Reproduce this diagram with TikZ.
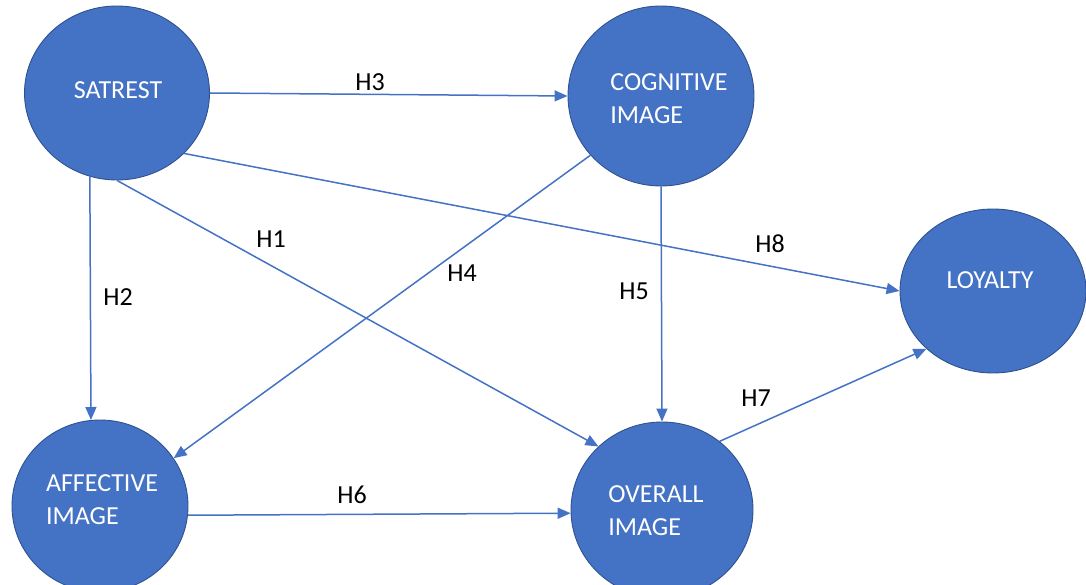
\documentclass[tikz,border=0pt]{standalone}
\usepackage{fontspec}
\setmainfont{Carlito}
\usetikzlibrary{shapes.geometric,arrows.meta}
\definecolor{accent}{HTML}{4472C4}
\definecolor{rim}{HTML}{2F528F}
\tikzset{
  bubble/.style={ellipse,draw=rim,line width=0.9pt,fill=accent,inner sep=0pt},
  btext/.style={text=white,font=\fontsize{26}{33}\selectfont,align=left,inner sep=0pt},
  conn/.style={draw=accent,line width=1.5pt,-{Triangle[length=13pt,width=11pt]}},
  hlab/.style={text=black,font=\fontsize{26}{33}\selectfont,inner sep=0pt}
}
\begin{document}
\begin{tikzpicture}[x=1pt,y=-1pt]
\useasboundingbox (0,0) rectangle (1086,585);
\node[bubble,minimum width=185pt,minimum height=174pt] (SAT) at (117,93) {};
\node[bubble,minimum width=186pt,minimum height=180pt] (COG) at (661,96) {};
\node[bubble,minimum width=186pt,minimum height=164pt] (LOY) at (993,291) {};
\node[bubble,minimum width=176pt,minimum height=172pt] (AFF) at (100,506) {};
\node[bubble,minimum width=182pt,minimum height=176pt] (OVR) at (662,510) {};

\node[btext] (SATt) at (118,90) {SATREST};
\node[btext] (COGt) at (669,98.5) {COGNITIVE\\IMAGE};
\node[btext] (LOYt) at (990,280) {LOYALTY};
\node[btext] (AFFt) at (102,500) {AFFECTIVE\\IMAGE};
\node[btext] (OVRt) at (656,511) {OVERALL\\IMAGE};

\draw[conn] (SAT.east) -- (COG.west);
\draw[conn] (SAT.-42) -- (LOY.west);
\draw[conn] (SAT.south) -- (OVR.135);
\draw[conn] (SAT.252) -- (AFF.96);
\draw[conn] (COG.220) -- (AFF.33);
\draw[conn] (COG.south) -- (OVR.north);
\draw[conn] (AFF.-6) -- (OVR.182);
\draw[conn] (OVR.50) -- (LOY.221);

\node[hlab] (H3) at (370,82) {H3};
\node[hlab] (H1) at (271,239) {H1};
\node[hlab] (H4) at (462,273) {H4};
\node[hlab] (H5) at (634,291) {H5};
\node[hlab] (H8) at (770,244) {H8};
\node[hlab] (H2) at (118,297) {H2};
\node[hlab] (H7) at (756,398) {H7};
\node[hlab] (H6) at (352,495) {H6};
\end{tikzpicture}
\end{document}
